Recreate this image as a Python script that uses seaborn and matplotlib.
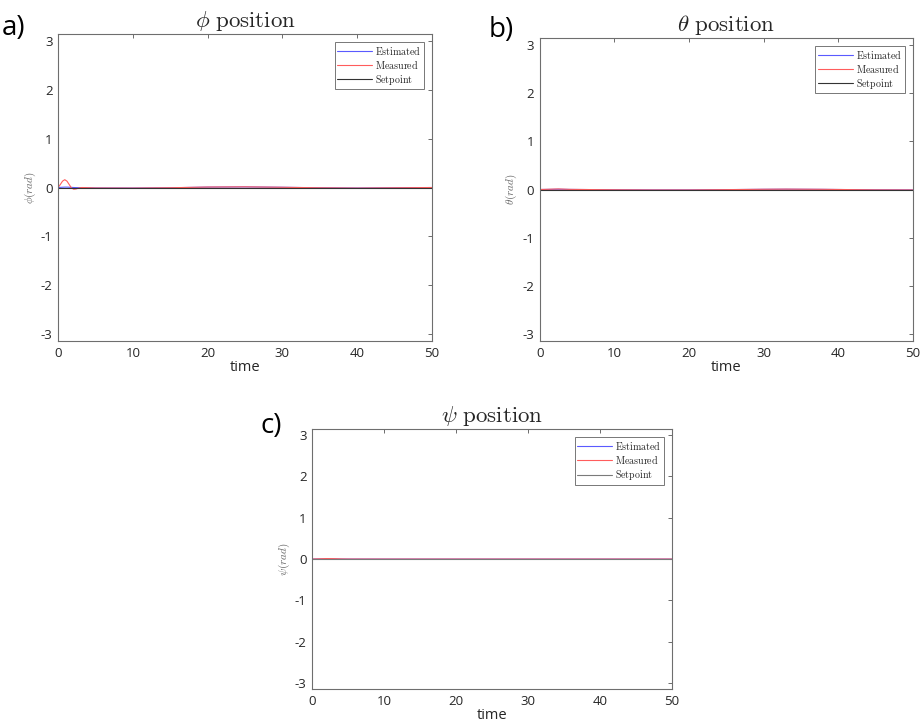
import matplotlib
matplotlib.use("Agg")
from matplotlib import pyplot as plt
import seaborn as sns
import numpy as np
import pandas as pd

# values (rad vs time)
phi_t = [0, 0.3, 0.6, 0.9, 1.2, 1.5, 1.8, 2.1, 2.4, 2.8, 3.2, 5, 10, 15, 20, 25, 30, 35, 40, 45, 50]
phi_est = [0, 0.003, 0.006, 0.008, 0.008, 0.006, 0.003, 0.0, -0.002, -0.002, -0.002, -0.008, -0.01, -0.005, 0.008, 0.012, 0.005, -0.005, -0.01, -0.005, 0.0]
phi_meas = [0, 0.06, 0.13, 0.16, 0.13, 0.06, -0.01, -0.035, -0.03, -0.01, 0.0, -0.01, -0.012, -0.005, 0.01, 0.014, 0.005, -0.006, -0.012, -0.006, 0.0]
phi_set = [0] * len(phi_t)

theta_t = [0, 1, 2.5, 4, 10, 15, 20, 25, 30, 33, 38, 45, 50]
theta_est = [0, 0.002, 0.005, 0.002, -0.005, -0.008, -0.008, -0.002, 0.004, 0.006, 0.003, -0.006, -0.008]
theta_meas = [0, 0.004, 0.012, 0.003, -0.006, -0.01, -0.01, -0.003, 0.005, 0.008, 0.004, -0.008, -0.01]
theta_set = [0] * len(theta_t)

psi_t = [0, 1, 2, 3, 4, 5, 10, 20, 30, 40, 50]
psi_est = [0, 0.002, 0.004, 0.003, 0.001, 0, 0, 0, 0, 0, 0]
psi_meas = [0, 0.006, 0.012, 0.01, 0.004, 0.001, 0, 0, 0, 0, 0]
psi_set = [0] * len(psi_t)

sns.set_style("white")
plt.rcParams["mathtext.fontset"] = "cm"
plt.rcParams["font.family"] = ["Open Sans", "DejaVu Sans"]
plt.rcParams["axes.unicode_minus"] = False

fig = plt.figure(figsize=(9.21, 7.24), dpi=100)

panels = [
    ("a)", r"\phi", phi_t, phi_est, phi_meas, phi_set, [0.063, 0.529, 0.406, 0.424], "#333333"),
    ("b)", r"\theta", theta_t, theta_est, theta_meas, theta_set, [0.586, 0.529, 0.405, 0.4185], "#333333"),
    ("c)", r"\psi", psi_t, psi_est, psi_meas, psi_set, [0.3388, 0.0483, 0.391, 0.359], "#7a7a7a"),
]

for tag, sym, t, est, meas, sp, pos, sp_col in panels:
    ax = fig.add_axes(pos)
    df = pd.DataFrame({"time": t, "Estimated": est, "Measured": meas, "Setpoint": sp})
    sns.lineplot(data=df, x="time", y="Estimated", ax=ax, color="#5a5aff", lw=0.8, label=r"$\mathrm{Estimated}$")
    sns.lineplot(data=df, x="time", y="Measured", ax=ax, color="#ff5c5c", lw=0.8, label=r"$\mathrm{Measured}$")
    sns.lineplot(data=df, x="time", y="Setpoint", ax=ax, color=sp_col, lw=0.8, label=r"$\mathrm{Setpoint}$")

    ax.set_xlim(0, 50)
    ax.set_ylim(-np.pi, np.pi)
    ax.set_xticks(range(0, 51, 10))
    ax.set_yticks(range(-3, 4))
    ax.tick_params(direction="in", length=3, width=0.6, colors="#555555",
                   labelcolor="#262626", labelsize=9.5, top=True, right=True, pad=4)
    for s in ax.spines.values():
        s.set_color("#6e6e6e")
        s.set_linewidth(0.8)

    ax.set_title(r"$" + sym + r"\ \mathrm{position}$", fontsize=16.5, pad=5)
    ax.set_xlabel("time", fontsize=10.5, color="#262626", labelpad=0)
    ax.set_ylabel(r"$" + sym + r"(rad)$", fontsize=8, color="#666666", labelpad=2)

    leg = ax.legend(loc="upper right", fontsize=7.2, fancybox=False, frameon=True,
                    edgecolor="#555555", handlelength=3.5, handletextpad=0.3,
                    borderpad=0.25, labelspacing=0.12, borderaxespad=0.8)
    leg.get_frame().set_linewidth(0.7)

fig.text(0.002, 0.962, "a)", fontsize=20, family="Open Sans", color="black", va="center", ha="left")
fig.text(0.530, 0.958, "b)", fontsize=20, family="Open Sans", color="black", va="center", ha="left")
fig.text(0.283, 0.411, "c)", fontsize=20, family="Open Sans", color="black", va="center", ha="left")

plt.savefig("out.png", dpi=100)
